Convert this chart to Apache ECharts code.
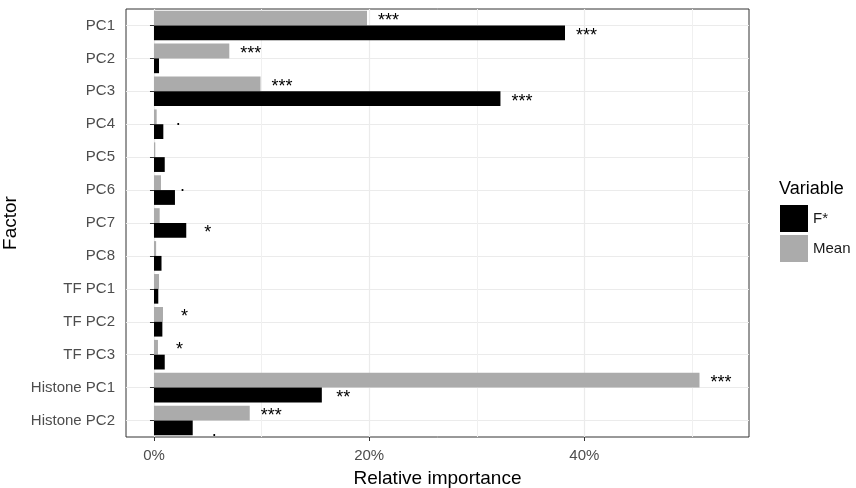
<!DOCTYPE html>
<html>
<head>
<meta charset="utf-8">
<script src="https://cdn.jsdelivr.net/npm/echarts@6/dist/echarts.min.js"></script>
<style>
  html, body { margin: 0; padding: 0; background: #ffffff; }
  #chart { width: 856px; height: 488px; }
</style>
</head>
<body>
<div id="chart"></div>
<script>
// factors, top to bottom
const factors = ['PC1', 'PC2', 'PC3', 'PC4', 'PC5', 'PC6', 'PC7', 'PC8',
  'TF PC1', 'TF PC2', 'TF PC3', 'Histone PC1', 'Histone PC2'];

// relative importance in %
const meanValues = [19.8, 7.0, 9.9, 0.25, 0.12, 0.65, 0.53, 0.2, 0.47, 0.84, 0.37, 50.7, 8.9];
const fValues = [38.2, 0.47, 32.2, 0.87, 1.0, 1.95, 3.0, 0.7, 0.4, 0.78, 1.0, 15.6, 3.6];

// significance marks
const meanSig = ['***', '***', '***', '.', '', '.', '', '', '', '*', '*', '***', '***'];
const fSig = ['***', '', '***', '', '', '', '*', '', '', '', '', '**', '.'];

const xTickLabels = [0, 20, 40];
const xMinorLines = [10, 30, 50];

const FONT = 'Liberation Sans, Arial, Helvetica, sans-serif';

const chart = echarts.init(document.getElementById('chart'), null, {renderer: 'canvas'});

function sigLabel(marks) {
    return {
        show: true,
        position: ['100%', '50%'],
        offset: [21.5, 3],
        align: 'center',
        verticalAlign: 'middle',
        color: '#000000',
        fontSize: 18,
        fontFamily: FONT,
        formatter: function (p) { return marks[p.dataIndex]; }
    };
}

const option = {
    backgroundColor: '#ffffff',
    animation: false,
    title: {
        text: 'Variable',
        left: 779,
        top: 180,
        padding: 0,
        textStyle: { fontSize: 18, fontWeight: 'normal', color: '#000000', fontFamily: FONT }
    },
    legend: {
        data: ['F*', 'Mean'],
        orient: 'vertical',
        left: 780,
        top: 205,
        padding: 0,
        itemWidth: 28,
        itemHeight: 27,
        itemGap: 3,
        icon: 'rect',
        textStyle: { fontSize: 15, color: '#1a1a1a', fontFamily: FONT }
    },
    grid: {
        left: 126,
        right: 107,
        top: 9,
        bottom: 51,
        containLabel: false,
        outerBoundsMode: 'none',
        show: true,
        borderColor: '#333333',
        borderWidth: 1,
        backgroundColor: 'transparent'
    },
    xAxis: {
        type: 'value',
        min: -2.6,
        max: 55.3,
        name: 'Relative importance',
        nameLocation: 'middle',
        nameGap: 32,
        nameTextStyle: { fontSize: 19, color: '#000000', fontFamily: FONT },
        axisLine: { show: false },
        axisTick: { show: true, length: 4, lineStyle: { color: '#333333' }, customValues: xTickLabels },
        axisLabel: {
            customValues: xTickLabels,
            margin: 11,
            fontSize: 15,
            color: '#4d4d4d',
            fontFamily: FONT,
            formatter: function (v) { return v + '%'; }
        },
        splitLine: { show: false }
    },
    yAxis: {
        type: 'category',
        data: factors,
        inverse: true,
        name: 'Factor',
        nameLocation: 'middle',
        nameRotate: 90,
        nameGap: 101,
        nameTextStyle: { fontSize: 19, color: '#000000', fontFamily: FONT },
        axisLine: { show: false },
        axisTick: { show: true, length: 4, alignWithLabel: true, lineStyle: { color: '#333333' } },
        axisLabel: { margin: 11, fontSize: 15, color: '#4d4d4d', fontFamily: FONT },
        splitLine: { show: false }
    },
    series: [
        {
            name: 'grid',
            type: 'line',
            data: [],
            silent: true,
            markLine: {
                silent: true,
                z: 0,
                symbol: 'none',
                label: { show: false },
                lineStyle: { type: 'solid', color: '#ebebeb', width: 1.2 },
                data: factors.map(function (f) { return { yAxis: f }; })
                    .concat(xTickLabels.map(function (v) { return { xAxis: v }; }))
                    .concat(xMinorLines.map(function (v) {
                        return { xAxis: v, lineStyle: { color: '#f0f0f0', width: 1 } };
                    }))
            }
        },
        {
            name: 'Mean',
            type: 'bar',
            data: meanValues,
            barWidth: 14.8,
            barGap: '0%',
            itemStyle: { color: '#ababab' },
            label: sigLabel(meanSig)
        },
        {
            name: 'F*',
            type: 'bar',
            data: fValues,
            barWidth: 14.8,
            barGap: '0%',
            itemStyle: { color: '#000000' },
            label: sigLabel(fSig)
        }
    ]
};

chart.setOption(option);
</script>
</body>
</html>
